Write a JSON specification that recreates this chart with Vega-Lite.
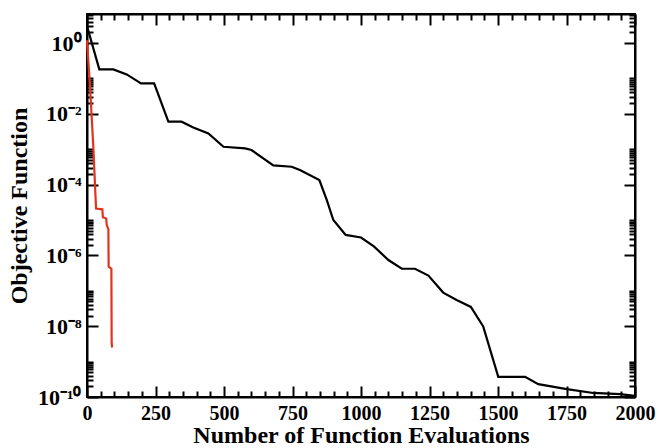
{
  "$schema": "https://vega.github.io/schema/vega-lite/v6.json",
  "width": 548,
  "height": 383,
  "autosize": {"type": "none"},
  "padding": {"left": 87, "top": 14, "right": 24, "bottom": 51},
  "background": "white",
  "config": {
    "view": {"stroke": "black", "strokeWidth": 2},
    "axis": {
      "domainColor": "black", "domainWidth": 2,
      "tickColor": "black", "tickWidth": 2,
      "labelFont": "Liberation Serif", "labelFontWeight": "bold", "labelColor": "black",
      "titleFont": "Liberation Serif", "titleFontWeight": "bold", "titleColor": "black",
      "grid": false, "labelFlush": false, "labelOverlap": false
    }
  },
  "datasets": {
    "slow": [
      {"evals": 0, "obj": 3.0},
      {"evals": 45, "obj": 0.18},
      {"evals": 96, "obj": 0.18},
      {"evals": 145, "obj": 0.13},
      {"evals": 197, "obj": 0.072},
      {"evals": 245, "obj": 0.072},
      {"evals": 297, "obj": 0.006},
      {"evals": 345, "obj": 0.006},
      {"evals": 388, "obj": 0.0041},
      {"evals": 443, "obj": 0.0028},
      {"evals": 498, "obj": 0.00117},
      {"evals": 577, "obj": 0.00105},
      {"evals": 600, "obj": 0.00095},
      {"evals": 680, "obj": 0.00035},
      {"evals": 747, "obj": 0.00032},
      {"evals": 777, "obj": 0.00026},
      {"evals": 848, "obj": 0.000135},
      {"evals": 875, "obj": 0.000037},
      {"evals": 899, "obj": 0.00001},
      {"evals": 944, "obj": 0.0000038},
      {"evals": 1000, "obj": 0.0000032},
      {"evals": 1047, "obj": 0.0000018},
      {"evals": 1100, "obj": 0.00000074},
      {"evals": 1149, "obj": 0.00000042},
      {"evals": 1197, "obj": 0.00000042},
      {"evals": 1246, "obj": 0.00000027},
      {"evals": 1300, "obj": 0.000000089},
      {"evals": 1349, "obj": 0.000000055},
      {"evals": 1401, "obj": 0.000000035},
      {"evals": 1446, "obj": 0.0000000098},
      {"evals": 1501, "obj": 0.00000000037},
      {"evals": 1599, "obj": 0.00000000037},
      {"evals": 1647, "obj": 0.00000000023},
      {"evals": 1751, "obj": 0.000000000166},
      {"evals": 1848, "obj": 0.00000000013},
      {"evals": 1945, "obj": 0.00000000012},
      {"evals": 2000, "obj": 0.000000000107}
    ],
    "fast": [
      {"evals": 0, "obj": 1.2},
      {"evals": 11, "obj": 0.059},
      {"evals": 23, "obj": 0.0012},
      {"evals": 33, "obj": 0.000021},
      {"evals": 56, "obj": 0.000020},
      {"evals": 58, "obj": 0.000012},
      {"evals": 70, "obj": 0.000011},
      {"evals": 72, "obj": 0.0000072},
      {"evals": 78, "obj": 0.0000055},
      {"evals": 79, "obj": 0.00000048},
      {"evals": 86, "obj": 0.00000044},
      {"evals": 89, "obj": 0.00000042},
      {"evals": 90, "obj": 0.0000000032},
      {"evals": 92, "obj": 0.0000000025}
    ]
  },
  "layer": [
    {
      "data": {"name": "slow"},
      "mark": {"type": "line", "color": "black", "strokeWidth": 2.2},
      "encoding": {
        "x": {
          "field": "evals", "type": "quantitative",
          "scale": {"domain": [0, 2000], "nice": false, "zero": false},
          "axis": {
            "orient": "bottom",
            "values": [0,50,100,150,200,250,300,350,400,450,500,550,600,650,700,750,800,850,900,950,1000,1050,1100,1150,1200,1250,1300,1350,1400,1450,1500,1550,1600,1650,1700,1750,1800,1850,1900,1950,2000],
            "labelExpr": "datum.value % 250 == 0 ? format(datum.value, 'd') : ''",
            "tickSize": {"condition": {"test": "datum.value % 250 == 0", "value": -11}, "value": -6},
            "labelPadding": 17,
            "labelFontSize": 20,
            "title": "Number of Function Evaluations",
            "titleFontSize": 24,
            "titlePadding": -5
          }
        },
        "y": {
          "field": "obj", "type": "quantitative",
          "scale": {"type": "log", "domain": [1e-10, 6.6], "nice": false},
          "axis": {
            "orient": "left",
            "values": [1e-10,2e-10,3e-10,4e-10,5e-10,6e-10,7e-10,8e-10,9e-10,1e-9,1e-8,2e-8,3e-8,4e-8,5e-8,6e-8,7e-8,8e-8,9e-8,1e-7,1e-6,2e-6,3e-6,4e-6,5e-6,6e-6,7e-6,8e-6,9e-6,1e-5,1e-4,2e-4,3e-4,4e-4,5e-4,6e-4,7e-4,8e-4,9e-4,1e-3,1e-2,2e-2,3e-2,4e-2,5e-2,6e-2,7e-2,8e-2,9e-2,1e-1,1,2,3,4,5,6],
            "labelExpr": "abs(log(datum.value)/LN10 - round(log(datum.value)/LN10)) < 0.001 && round(log(datum.value)/LN10) % 2 == 0 ? (round(log(datum.value)/LN10) == 0 ? '10⁰' : round(log(datum.value)/LN10) == -2 ? '10⁻²' : round(log(datum.value)/LN10) == -4 ? '10⁻⁴' : round(log(datum.value)/LN10) == -6 ? '10⁻⁶' : round(log(datum.value)/LN10) == -8 ? '10⁻⁸' : '10⁻¹⁰') : ''",
            "tickSize": {"condition": {"test": "abs(log(datum.value)/LN10 - round(log(datum.value)/LN10)) < 0.001 && round(log(datum.value)/LN10) % 2 == 0", "value": -11}, "value": -6},
            "labelPadding": 17,
            "labelFontSize": 22,
            "title": "Objective Function",
            "titleFontSize": 24,
            "titlePadding": 6
          }
        }
      }
    },
    {
      "data": {"name": "fast"},
      "mark": {"type": "line", "color": "#e2341d", "strokeWidth": 2.2},
      "encoding": {
        "x": {
          "field": "evals", "type": "quantitative",
          "axis": {
            "orient": "top",
            "values": [0,50,100,150,200,250,300,350,400,450,500,550,600,650,700,750,800,850,900,950,1000,1050,1100,1150,1200,1250,1300,1350,1400,1450,1500,1550,1600,1650,1700,1750,1800,1850,1900,1950,2000],
            "labels": false,
            "tickSize": {"condition": {"test": "datum.value % 250 == 0", "value": -11}, "value": -6},
            "title": null
          }
        },
        "y": {
          "field": "obj", "type": "quantitative",
          "axis": {
            "orient": "right",
            "values": [1e-10,2e-10,3e-10,4e-10,5e-10,6e-10,7e-10,8e-10,9e-10,1e-9,1e-8,2e-8,3e-8,4e-8,5e-8,6e-8,7e-8,8e-8,9e-8,1e-7,1e-6,2e-6,3e-6,4e-6,5e-6,6e-6,7e-6,8e-6,9e-6,1e-5,1e-4,2e-4,3e-4,4e-4,5e-4,6e-4,7e-4,8e-4,9e-4,1e-3,1e-2,2e-2,3e-2,4e-2,5e-2,6e-2,7e-2,8e-2,9e-2,1e-1,1,2,3,4,5,6],
            "labels": false,
            "tickSize": {"condition": {"test": "abs(log(datum.value)/LN10 - round(log(datum.value)/LN10)) < 0.001 && round(log(datum.value)/LN10) % 2 == 0", "value": -11}, "value": -6},
            "title": null
          }
        }
      }
    }
  ],
  "resolve": {"axis": {"x": "independent", "y": "independent"}}
}
